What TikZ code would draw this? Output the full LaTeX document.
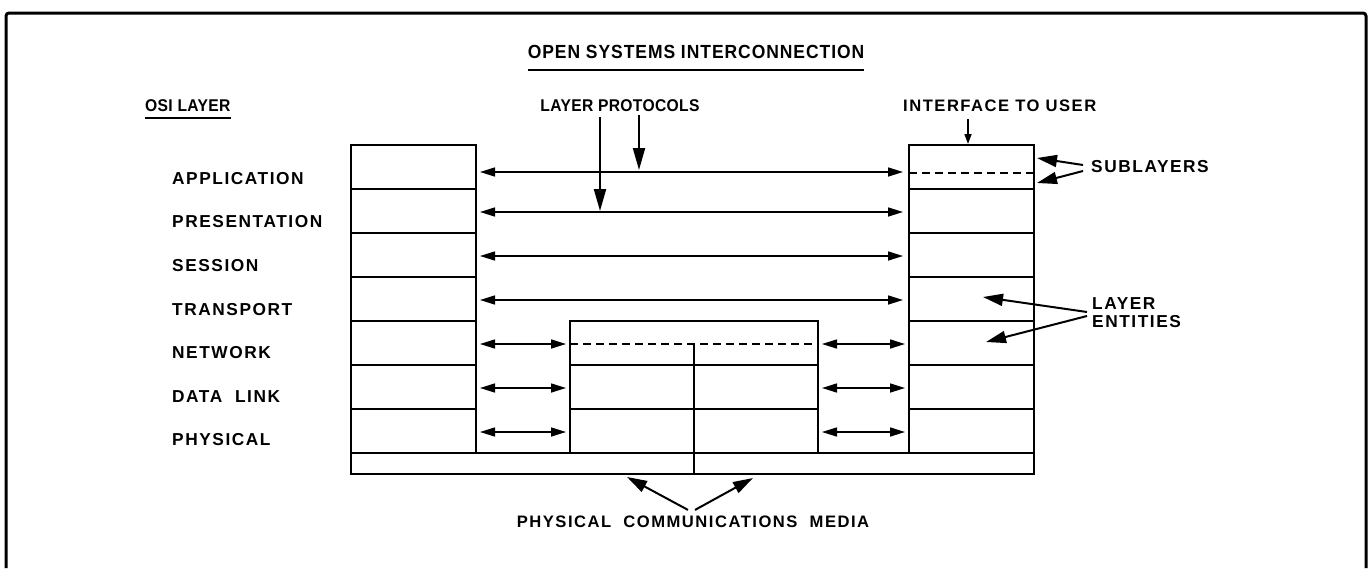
\documentclass[tikz,border=0pt]{standalone}
\usepackage{fontspec}
\setmainfont{Liberation Sans}
\newfontfamily\capsfont[LetterSpace=9]{Liberation Sans}
\newfontfamily\headfont[FakeStretch=0.92,LetterSpace=2]{Liberation Sans}
\newfontfamily\titlefont[FakeStretch=0.92,LetterSpace=5]{Liberation Sans}
\usetikzlibrary{arrows.meta,calc}

\begin{document}
\begin{tikzpicture}[x=1pt,y=-1pt,
  lbl/.style={font=\capsfont\bfseries\fontsize{17.3}{18}\selectfont, inner sep=0pt, text=black},
  lblsmall/.style={lbl, font=\capsfont\bfseries\fontsize{16.6}{18}\selectfont},
  head/.style={font=\headfont\bfseries\fontsize{17}{18}\selectfont, inner sep=0pt, text=black},
  cell/.style={draw, line width=1.6pt, minimum width=125pt, minimum height=44pt, inner sep=0pt, outer sep=0pt},
  halfcell/.style={cell, minimum width=124pt},
  media/.style={draw, line width=1.8pt, minimum height=21pt, inner sep=0pt, outer sep=0pt},
  subline/.style={line width=1.6pt, dash pattern=on 8pt off 5pt},
  proto/.style={line width=1.6pt, {Triangle[length=15pt,width=9pt]}-{Triangle[length=15pt,width=9pt]}},
  bigarrow/.style={line width=2pt, -{Triangle[length=22pt,width=12pt]}},
  callout/.style={line width=2pt, -{Triangle[length=20pt,width=12pt]}},
  smallarrow/.style={line width=1.6pt, -{Triangle[length=10pt,width=7pt]}}]

\useasboundingbox (0,0) rectangle (1371,568);

% outer frame, open at the bottom
\draw[line width=3pt, rounded corners=3pt] (6,568) -- (6,13) -- (1366,13) -- (1366,568);

% title and column heading
\node[font=\titlefont\bfseries\fontsize{19}{20}\selectfont, inner sep=0pt] (title) at (696,52) {OPEN SYSTEMS INTERCONNECTION};
\draw[line width=2pt] ([yshift=-11pt]title.south west) -- ([yshift=-11pt]title.south east);
\node[head, anchor=west] (osi) at (145,106) {OSI LAYER};
\draw[line width=2pt] ([yshift=-6pt]osi.south west) -- ([yshift=-6pt]osi.south east);

% layer names
\node[lbl, anchor=west] (n1) at (172,179) {APPLICATION};
\node[lbl, anchor=west] (n2) at (172,222) {PRESENTATION};
\node[lbl, anchor=west] (n3) at (172,266) {SESSION};
\node[lbl, anchor=west] (n4) at (172,310) {TRANSPORT};
\node[lbl, anchor=west] (n5) at (172,353) {NETWORK};
\node[lbl, anchor=west] (n6) at (172,397) {DATA\ \ LINK};
\node[lbl, anchor=west] (n7) at (172,440) {PHYSICAL};

% end-system stacks
\foreach \i in {1,...,7} {
  \node[cell] (L\i) at (413.5,123+44*\i) {};
  \node[cell] (R\i) at (971.5,123+44*\i) {};
}
\draw[subline] ([yshift=-6pt]R1.west) -- ([yshift=-6pt]R1.east);

% relay system
\node[cell, minimum width=248pt] (M5) at (694,343) {};
\node[halfcell] (M6a) at (632,387) {};
\node[halfcell] (M6b) at (756,387) {};
\node[halfcell] (M7a) at (632,431) {};
\node[halfcell] (M7b) at (756,431) {};
\draw[subline] ([yshift=-1pt]M5.west) -- ([yshift=-1pt]M5.east);

% physical media
\node[media, minimum width=343pt] (medL) at (522.5,463.5) {};
\node[media, minimum width=340pt] (medR) at (864,463.5) {};
\draw[line width=1.6pt] ([yshift=-1pt]M5.center) -- (medL.south east);

% peer protocols
\draw[proto] ([shift={(4,5)}]L1.east) -- ([shift={(-6,5)}]R1.west);
\foreach \i in {2,3,4}
  \draw[proto] ([shift={(4,1)}]L\i.east) -- ([shift={(-6,1)}]R\i.west);
\draw[proto] ([shift={(4,1)}]L5.east) -- ([shift={(-4,1)}]M5.west);
\draw[proto] ([shift={(4,1)}]M5.east) -- ([shift={(-4,1)}]R5.west);
\foreach \i in {6,7} {
  \draw[proto] ([shift={(4,1)}]L\i.east) -- ([shift={(-4,1)}]M\i a.west);
  \draw[proto] ([shift={(4,1)}]M\i b.east) -- ([shift={(-4,1)}]R\i.west);
}

% labels with pointers
\node[head] (lp) at (620,106) {LAYER PROTOCOLS};
\coordinate (lp1) at (600,211);
\coordinate (lp2) at (639,170);
\draw[bigarrow, shorten <=5pt] (lp.south -| lp1) -- (lp1);
\draw[bigarrow, shorten <=3pt] (lp.south -| lp2) -- (lp2);

\node[lblsmall, anchor=west] (iu) at (903,106) {INTERFACE TO USER};
\coordinate (iu1) at (968,144);
\draw[smallarrow, shorten <=7pt] (iu.south -| iu1) -- (iu1);

\node[lbl, anchor=west] (sub) at (1091,167) {SUBLAYERS};
\coordinate (sub1) at (1037,158);
\coordinate (sub2) at (1037,183);
\draw[callout] ([shift={(-8,-2)}]sub.west) -- (sub1);
\draw[callout] ([shift={(-8,4)}]sub.west) -- (sub2);

\node[lbl, anchor=west, align=left] (ent) at (1092,313) {LAYER\\ENTITIES};
\coordinate (ent1) at (983,297);
\coordinate (ent2) at (986,342);
\draw[callout] ([shift={(-5,-1)}]ent.west) -- (ent1);
\draw[callout] ([shift={(-5,3)}]ent.west) -- (ent2);

\node[lblsmall] (pcm) at (693,522) {PHYSICAL\ \ COMMUNICATIONS\ \ MEDIA};
\coordinate (pcm1) at (627,477);
\coordinate (pcm2) at (753,478);
\draw[callout] ([shift={(-5,-6)}]pcm.north) -- (pcm1);
\draw[callout] ([shift={(2,-6)}]pcm.north) -- (pcm2);
\end{tikzpicture}
\end{document}
